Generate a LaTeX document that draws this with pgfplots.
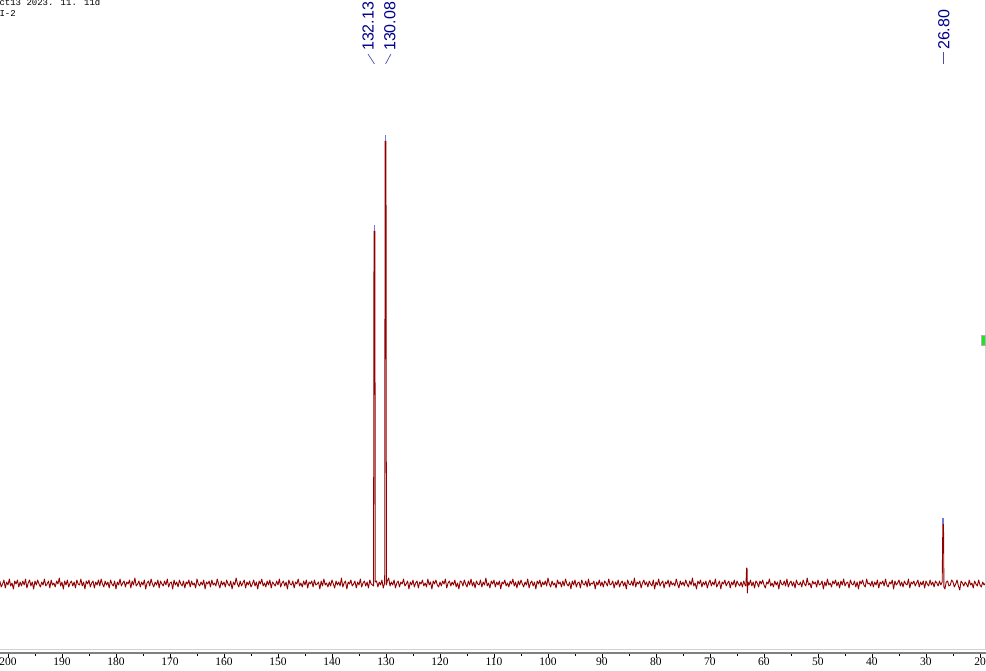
\documentclass[border=0pt]{standalone}
\usepackage{fontspec}
\setmainfont{Liberation Serif}
\newfontfamily\labelfont{Liberation Sans}
\newfontfamily\headfont{Liberation Mono}
\usepackage{pgfplots}
\pgfplotsset{compat=1.18}

\definecolor{specred}{RGB}{145,0,0}
\definecolor{tipblue}{RGB}{120,120,210}
\definecolor{peaknavy}{RGB}{0,0,139}
\definecolor{marker}{RGB}{30,230,30}

\begin{document}
\begin{tikzpicture}
\begin{axis}[
    name=ax,
    scale only axis,
    width=986pt, height=653pt,
    xmin=18.89, xmax=201.48, x dir=reverse,
    ymin=-70, ymax=583,
    axis y line=none,
    axis x line*=bottom,
    x axis line style={-, draw=gray, line width=1.4pt},
    xtick={20,30,...,200},
    minor xtick={25,35,...,195},
    tick align=outside,
    major tick length=5pt,
    minor tick length=3pt,
    every tick/.style={black, line width=0.6pt},
    xticklabel style={font=\fontsize{11.5}{11.5}\selectfont, inner sep=0pt, anchor=north},
    /pgf/number format/assume math mode=true,
    clip=false,
]
% spectrum, intensity in pixel-like units above the baseline
\addplot[specred, line width=0.9pt, line join=round] coordinates {
(201.5,2)(201.25,-4)(201,-1)(200.75,3)(200.5,-5)(200.25,1)(200,-2)(199.75,4)(199.5,-3)(199.25,0)
(199,-6)(198.75,2)(198.5,-1)(198.25,3)(198,-4)(197.75,1)(197.5,-3)(197.25,2)(197,-2)(196.75,4)
(196.5,-5)(196.25,0)(196,3)(195.75,-3)(195.5,1)(195.25,-6)(195,2)(194.75,-2)(194.5,3)(194.25,-1)
(194,-4)(193.75,1)(193.5,-2)(193.25,4)(193,-3)(192.75,-1)(192.5,2)(192.25,-5)(192,3)(191.75,-2)
(191.5,0)(191.25,-4)(191,2)(190.75,-1)(190.5,5)(190.25,-3)(190,1)(189.75,-6)(189.5,2)(189.25,-2)
(189,3)(188.75,-4)(188.5,0)(188.25,2)(188,-3)(187.75,1)(187.5,-5)(187.25,3)(187,-1)(186.75,-2)
(186.5,4)(186.25,-3)(186,1)(185.75,-6)(185.5,2)(185.25,-1)(185,3)(184.75,-4)(184.5,0)(184.25,2)
(184,-5)(183.75,1)(183.5,-2)(183.25,3)(183,-3)(182.75,4)(182.5,-1)(182.25,-4)(182,2)(181.75,-2)
(181.5,1)(181.25,-5)(181,3)(180.75,-1)(180.5,-3)(180.25,2)(180,-6)(179.75,1)(179.5,-2)(179.25,4)
(179,-3)(178.75,0)(178.5,2)(178.25,-4)(178,1)(177.75,-1)(177.5,3)(177.25,-5)(177,2)(176.75,-2)
(176.5,5)(176.25,-3)(176,-1)(175.75,2)(175.5,-4)(175.25,1)(175,-2)(174.75,3)(174.5,-6)(174.25,0)
(174,2)(173.75,-3)(173.5,4)(173.25,-1)(173,-4)(172.75,1)(172.5,-2)(172.25,3)(172,-5)(171.75,2)
(171.5,-1)(171.25,-3)(171,2)(170.75,-2)(170.5,4)(170.25,-4)(170,0)(169.75,1)(169.5,-6)(169.25,3)
(169,-2)(168.75,1)(168.5,-4)(168.25,3)(168,-1)(167.75,-3)(167.5,2)(167.25,-5)(167,1)(166.75,-1)
(166.5,3)(166.25,-4)(166,2)(165.75,-2)(165.5,0)(165.25,-5)(165,4)(164.75,-1)(164.5,-3)(164.25,1)
(164,-2)(163.75,3)(163.5,-6)(163.25,1)(163,-1)(162.75,2)(162.5,-4)(162.25,3)(162,-2)(161.75,0)
(161.5,-3)(161.25,4)(161,-1)(160.75,-5)(160.5,2)(160.25,-2)(160,1)(159.75,-4)(159.5,3)(159.25,-1)
(159,-3)(158.75,2)(158.5,-6)(158.25,1)(158,-2)(157.75,5)(157.5,-1)(157.25,-4)(157,2)(156.75,-3)
(156.5,0)(156.25,3)(156,-5)(155.75,1)(155.5,-2)(155.25,2)(155,-4)(154.75,-1)(154.5,3)(154.25,-3)
(154,1)(153.75,-6)(153.5,2)(153.25,-1)(153,4)(152.75,-3)(152.5,0)(152.25,-4)(152,2)(151.75,-2)
(151.5,3)(151.25,-5)(151,1)(150.75,-1)(150.5,-3)(150.25,2)(150,-2)(149.75,4)(149.5,-4)(149.25,0)
(149,2)(148.75,-3)(148.5,1)(148.25,-6)(148,3)(147.75,-1)(147.5,-2)(147.25,2)(147,-5)(146.75,1)
(146.5,-1)(146.25,4)(146,-3)(145.75,0)(145.5,-4)(145.25,2)(145,-2)(144.75,3)(144.5,-5)(144.25,1)
(144,-1)(143.75,2)(143.5,-4)(143.25,3)(143,-2)(142.75,-1)(142.5,1)(142.25,-6)(142,2)(141.75,-3)
(141.5,4)(141.25,-2)(141,0)(140.75,-4)(140.5,1)(140.25,-3)(140,3)(139.75,-1)(139.5,-5)(139.25,2)
(139,-2)(138.75,1)(138.5,-3)(138.25,5)(138,-4)(137.75,0)(137.5,2)(137.25,-6)(137,1)(136.75,-1)
(136.5,3)(136.25,-3)(136,-1)(135.75,2)(135.5,-5)(135.25,1)(135,-2)(134.75,4)(134.5,-4)(134.25,0)
(134,2)(133.75,-3)(133.5,1)(133.25,-5)(133,3)(132.75,-1)(132.5,-2)
(132.3,-3)(132.22,352)(132.06,352)(131.98,1)
(131.75,2)(131.5,-4)(131.25,1)(131,-2)(130.75,3)(130.5,-5)(130.25,0)
(130.24,-1)(130.16,442)(130.0,442)(129.92,-2)
(129.75,2)(129.5,5)
(129.25,-3)(129,1)(128.75,-2)(128.5,3)(128.25,-5)(128,0)(127.75,2)(127.5,-4)(127.25,1)(127,-1)
(126.75,4)(126.5,-3)(126.25,-1)(126,2)(125.75,-6)(125.5,1)(125.25,-2)(125,3)(124.75,-4)(124.5,0)
(124.25,2)(124,-5)(123.75,1)(123.5,-1)(123.25,3)(123,-3)(122.75,0)(122.5,-4)(122.25,4)(122,-2)
(121.75,1)(121.5,-6)(121.25,2)(121,-1)(120.75,3)(120.5,-2)(120.25,-4)(120,1)(119.75,-3)(119.5,2)
(119.25,-1)(119,4)(118.75,-5)(118.5,0)(118.25,2)(118,-3)(117.75,1)(117.5,-2)(117.25,3)(117,-4)
(116.75,0)(116.5,-6)(116.25,2)(116,1)(115.75,-3)(115.5,3)(115.25,-1)(115,-4)(114.75,2)(114.5,-2)
(114.25,4)(114,-3)(113.75,1)(113.5,-5)(113.25,2)(113,-1)(112.75,-2)(112.5,3)(112.25,-4)(112,1)
(111.75,-2)(111.5,5)(111.25,-3)(111,0)(110.75,-5)(110.5,2)(110.25,-1)(110,3)(109.75,-4)(109.5,1)
(109.25,-2)(109,2)(108.75,-6)(108.5,1)(108.25,-1)(108,3)(107.75,-3)(107.5,0)(107.25,-4)(107,2)
(106.75,-1)(106.5,4)(106.25,-3)(106,1)(105.75,-5)(105.5,2)(105.25,-2)(105,3)(104.75,-1)(104.5,-4)
(104.25,1)(104,-2)(103.75,4)(103.5,-5)(103.25,0)(103,2)(102.75,-3)(102.5,1)(102.25,-6)(102,2)
(101.75,-1)(101.5,3)(101.25,-4)(101,1)(100.75,-2)(100.5,2)(100.25,-3)(100,5)(99.75,-1)(99.5,-4)
(99.25,2)(99,-2)(98.75,0)(98.5,-5)(98.25,3)(98,-1)(97.75,1)(97.5,-4)(97.25,2)(97,-3)
(96.75,4)(96.5,-1)(96.25,-3)(96,1)(95.75,-6)(95.5,2)(95.25,-2)(95,3)(94.75,-4)(94.5,0)
(94.25,1)(94,-5)(93.75,3)(93.5,-1)(93.25,-2)(93,2)(92.75,-4)(92.5,4)(92.25,-3)(92,0)
(91.75,-1)(91.5,2)(91.25,-6)(91,1)(90.75,-2)(90.5,3)(90.25,-3)(90,1)(89.75,-4)(89.5,2)
(89.25,0)(89,-3)(88.75,4)(88.5,-2)(88.25,-1)(88,2)(87.75,-5)(87.5,1)(87.25,-2)(87,3)
(86.75,-4)(86.5,0)(86.25,2)(86,-3)(85.75,1)(85.5,-6)(85.25,3)(85,-1)(84.75,-2)(84.5,2)
(84.25,-3)(84,5)(83.75,-4)(83.5,1)(83.25,-1)(83,2)(82.75,-5)(82.5,0)(82.25,3)(82,-2)
(81.75,1)(81.5,-4)(81.25,2)(81,-1)(80.75,-3)(80.5,3)(80.25,-6)(80,1)(79.75,-2)(79.5,4)
(79.25,-3)(79,0)(78.75,2)(78.5,-5)(78.25,1)(78,-1)(77.75,3)(77.5,-4)(77.25,2)(77,-2)
(76.75,0)(76.5,-3)(76.25,4)(76,-1)(75.75,-5)(75.5,2)(75.25,-2)(75,1)(74.75,-3)(74.5,3)
(74.25,-1)(74,-4)(73.75,2)(73.5,-2)(73.25,5)(73,-3)(72.75,0)(72.5,-6)(72.25,2)(72,-1)
(71.75,3)(71.5,-4)(71.25,1)(71,-2)(70.75,2)(70.5,-5)(70.25,0)(70,3)(69.75,-3)(69.5,1)
(69.25,-2)(69,4)(68.75,-4)(68.5,-1)(68.25,2)(68,-6)(67.75,1)(67.5,-1)(67.25,3)(67,-3)
(66.75,0)(66.5,2)(66.25,-5)(66,1)(65.75,-2)(65.5,3)(65.25,-4)(65,2)(64.75,-1)(64.5,-3)
(64.25,1)(64,-4)(63.75,2)(63.5,-2)
(63.35,-3)(63.22,15)(63.14,15)(63.08,-10)(62.95,1)(62.75,-2)
(62.5,3)(62.25,-3)(62,1)(61.75,-5)(61.5,2)(61.25,0)(61,-4)(60.75,2)(60.5,-1)(60.25,3)
(60,-2)(59.75,-5)(59.5,1)(59.25,-1)(59,4)(58.75,-3)(58.5,0)(58.25,-4)(58,2)(57.75,-2)
(57.5,1)(57.25,-6)(57,3)(56.75,-1)(56.5,-2)(56.25,2)(56,-3)(55.75,4)(55.5,-4)(55.25,0)
(55,2)(54.75,-3)(54.5,1)(54.25,-5)(54,3)(53.75,-1)(53.5,-2)(53.25,1)(53,-4)(52.75,3)
(52.5,-1)(52.25,-3)(52,5)(51.75,-2)(51.5,0)(51.25,-5)(51,2)(50.75,-1)(50.5,1)(50.25,-4)
(50,3)(49.75,-2)(49.5,-1)(49.25,2)(49,-6)(48.75,1)(48.5,-3)(48.25,4)(48,-2)(47.75,0)
(47.5,-4)(47.25,2)(47,-1)(46.75,3)(46.5,-3)(46.25,1)(46,-5)(45.75,2)(45.5,-2)(45.25,4)
(45,-3)(44.75,0)(44.5,1)(44.25,-5)(44,3)(43.75,-1)(43.5,-2)(43.25,2)(43,-4)(42.75,1)
(42.5,-6)(42.25,2)(42,-1)(41.75,3)(41.5,-2)(41.25,-4)(41,4)(40.75,-1)(40.5,0)(40.25,-3)
(40,2)(39.75,-4)(39.5,1)(39.25,-2)(39,3)(38.75,-5)(38.5,1)(38.25,-1)(38,2)(37.75,-3)
(37.5,4)(37.25,-2)(37,-4)(36.75,1)(36.5,-1)(36.25,3)(36,-6)(35.75,2)(35.5,-2)(35.25,0)
(35,3)(34.75,-3)(34.5,1)(34.25,-4)(34,2)(33.75,-1)(33.5,-2)(33.25,4)(33,-5)(32.75,1)
(32.5,-1)(32.25,2)(32,-3)(31.75,0)(31.5,3)(31.25,-4)(31,1)(30.75,-2)(30.5,2)(30.25,-5)
(30,2)(29.75,-1)(29.5,-3)(29.25,3)(29,-2)(28.75,1)(28.5,-4)(28.25,2)(28,0)(27.75,-3)
(27.5,2)(27.25,-2)(27.0,1)
(26.88,59)(26.76,59)
(26.68,-4)(26.5,-6)(26.25,1)(26,2)(25.75,-3)(25.5,-2)(25.25,3)(25,1)(24.75,-4)(24.5,-1)(24.25,3)
(24,-3)(23.75,-7)(23.5,2)(23.25,0)(23,-3)(22.75,1)(22.5,-1)(22.25,-4)(22,3)(21.75,-2)
(21.5,0)(21.25,-5)(21,2)(20.75,-1)(20.5,-3)(20.25,3)(20,-2)(19.75,-4)(19.5,1)(19.25,-2)(19,0)
};
% blue tips of the picked peaks
\addplot[tipblue, line width=1.5pt] coordinates {(132.14,352)(132.14,358)};
\addplot[tipblue, line width=1.5pt] coordinates {(130.08,442)(130.08,448)};
\addplot[tipblue, line width=1.5pt] coordinates {(26.82,59)(26.82,65)};

% frame lines and marker
\draw[gray!35, line width=1pt] (axis cs:201.48,-66) -- (axis cs:18.89,-66);
\draw[gray!35, line width=1pt] (axis cs:19.07,-66) -- (axis cs:19.07,583);
\filldraw[fill=marker, draw=gray!60] (axis cs:19.81,238) rectangle (axis cs:18.95,248);

% peak labels
\node[rotate=90, anchor=west, inner sep=0pt, text=peaknavy, font=\labelfont\fontsize{16}{16}\selectfont] at (axis cs:133.33,532) {132.13};
\node[rotate=90, anchor=west, inner sep=0pt, text=peaknavy, font=\labelfont\fontsize{16}{16}\selectfont] at (axis cs:129.26,532) {130.08};
\node[rotate=90, anchor=west, inner sep=0pt, text=peaknavy, font=\labelfont\fontsize{16}{16}\selectfont] at (axis cs:26.67,533) {26.80};
\draw[peaknavy!70, line width=0.7pt] (axis cs:133.33,529) -- (axis cs:132.13,519);
\draw[peaknavy!70, line width=0.7pt] (axis cs:129.08,529) -- (axis cs:130.08,519);
\draw[peaknavy!70, line width=0.7pt] (axis cs:26.75,531) -- (axis cs:26.75,519);

% header text
\node[anchor=base west, inner sep=0pt, font=\headfont\fontsize{9}{9}\selectfont] at (axis cs:201.6,577.5) {ct13 2023. 11. 11d};
\node[anchor=base west, inner sep=0pt, font=\headfont\fontsize{9}{9}\selectfont] at (axis cs:201.6,566) {I-2};
\end{axis}
\pgfresetboundingbox
\path[use as bounding box] ([yshift=-17pt]ax.south west) rectangle (ax.north east);
\end{tikzpicture}
\end{document}
